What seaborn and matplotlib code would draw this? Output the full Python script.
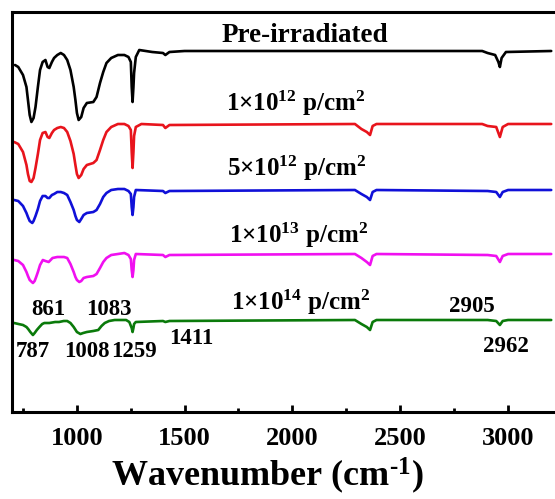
import matplotlib
matplotlib.use("Agg")
import matplotlib.pyplot as plt
import seaborn as sns
import pandas as pd

# ---------------- data ----------------
samples = ["Pre-irradiated", "1e12", "5e12", "1e13", "1e14"]
colors = ["#000000", "#e8141c", "#1010d8", "#f010f0", "#0a7a0a"]

wn_pre = [714, 729, 751, 767, 774, 782, 790, 800, 809, 820, 830, 842, 855, 865, 873, 885, 895,
          910, 926, 941, 956, 971, 986, 994, 1001, 1009, 1021, 1032, 1047, 1077, 1092, 1108,
          1123, 1138, 1160, 1191, 1221, 1240, 1251, 1255, 1259, 1263, 1266, 1274, 1290,
          1350, 1400, 1411, 1430, 1500, 2000, 2880, 2905, 2940, 2955, 2962, 2970, 2990, 3200]
t_pre = [347, 345, 337, 325, 312, 297, 290, 294, 305, 325, 342, 350, 352, 345, 344, 350, 354,
         357, 359, 357, 352, 342, 325, 312, 299, 292, 295, 304, 309, 310, 315, 329,
         340, 349, 354, 357, 357, 355, 350, 325, 310, 325, 339, 355, 362,
         360, 359, 357, 360, 361, 361, 361, 359, 357, 350, 345, 354, 360, 361]

wn_1e12 = [710, 729, 751, 767, 774, 782, 790, 800, 809, 820, 830, 842, 855, 865, 873, 885, 895,
           910, 926, 941, 956, 971, 986, 994, 1001, 1009, 1021, 1032, 1047, 1077, 1092, 1108,
           1123, 1138, 1160, 1191, 1221, 1240, 1251, 1255, 1259, 1263, 1266, 1274, 1300,
           1400, 1411, 1430, 2290, 2320, 2345, 2360, 2372, 2390, 2880, 2905, 2945, 2962, 2975,
           3000, 3200]
t_1e12 = [270, 268, 260, 247, 238, 231, 230, 234, 244, 258, 272, 279, 280, 275, 274, 279, 282,
          284, 285, 284, 280, 271, 258, 247, 238, 234, 237, 243, 247, 249, 252, 262,
          272, 280, 285, 288, 288, 286, 282, 260, 244, 260, 276, 285, 288,
          287, 284, 287, 288, 283, 280, 277, 286, 288, 288, 286, 285, 275, 285,
          288, 288]

wn_5e12 = [710, 729, 751, 767, 774, 782, 794, 800, 809, 820, 830, 842, 855, 865, 873, 885, 895,
           910, 926, 941, 956, 971, 986, 994, 1001, 1012, 1021, 1032, 1047, 1077, 1092, 1108,
           1123, 1138, 1160, 1191, 1221, 1240, 1251, 1255, 1259, 1263, 1266, 1274, 1400, 1411,
           1430, 2290, 2320, 2345, 2360, 2372, 2390, 2905, 2945, 2962, 2975, 3000, 3200]
t_5e12 = [212, 211, 206, 199, 195, 191, 189, 191, 196, 203, 211, 216, 216, 214, 214, 217, 218,
          220, 220, 219, 217, 210, 202, 196, 192, 190, 193, 197, 199, 200, 202, 208,
          215, 219, 222, 223, 223, 221, 218, 205, 197, 205, 215, 222, 221, 219,
          221, 222, 218, 215, 212, 220, 222, 221, 220, 215, 220, 222, 222]

wn_1e13 = [710, 729, 751, 767, 774, 782, 797, 805, 812, 820, 830, 843, 855, 870, 888, 910, 926,
           941, 956, 971, 986, 994, 1001, 1012, 1021, 1032, 1047, 1077, 1092, 1108, 1123, 1138,
           1160, 1191, 1221, 1240, 1251, 1255, 1259, 1263, 1266, 1274, 1400, 1411, 1430, 2290,
           2320, 2345, 2360, 2372, 2390, 2905, 2945, 2962, 2975, 3000, 3200]
t_1e13 = [152, 151, 147, 140, 136, 132, 129, 131, 135, 140, 147, 152, 151, 150, 154, 155, 155,
          155, 154, 148, 140, 135, 132, 130, 131, 134, 135, 136, 138, 144, 150, 154,
          157, 158, 159, 157, 153, 142, 135, 142, 152, 158, 157, 155, 157, 158,
          154, 150, 147, 156, 158, 157, 156, 150, 156, 158, 158]

wn_1e14 = [710, 730, 751, 767, 775, 785, 797, 805, 815, 827, 840, 850, 873, 900, 918, 940, 956,
           971, 986, 1001, 1017, 1030, 1047, 1077, 1100, 1115, 1130, 1150, 1176, 1229, 1244,
           1255, 1259, 1263, 1266, 1274, 1400, 1411, 1430, 2290, 2320, 2345, 2360, 2372, 2390,
           2905, 2945, 2962, 2975, 3000, 3200]
t_1e14 = [89, 88, 87, 85, 83, 80, 77, 79, 82, 85, 88, 89, 89, 90, 90, 91, 91,
          89, 85, 80, 78, 79, 80, 81, 82, 86, 89, 91, 92, 92, 90,
          84, 80, 84, 88, 90, 91, 90, 91, 92, 88, 85, 82, 90, 92,
          92, 91, 87, 91, 92, 92]

series_labels = ["Pre-irradiated", "1×10$^{12}$ p/cm$^{2}$", "5×10$^{12}$ p/cm$^{2}$",
                 "1×10$^{13}$ p/cm$^{2}$", "1×10$^{14}$ p/cm$^{2}$"]
peak_labels = ["861", "1083", "787", "1008", "1259", "1411", "2905", "2962"]
x_ticks = [1000, 1500, 2000, 2500, 3000]

# ---------------- build table ----------------
frames = []
for name, wn, t in zip(samples,
                       [wn_pre, wn_1e12, wn_5e12, wn_1e13, wn_1e14],
                       [t_pre, t_1e12, t_5e12, t_1e13, t_1e14]):
    frames.append(pd.DataFrame({"wn": wn, "T": t, "sample": name}))
df = pd.concat(frames, ignore_index=True)

# ---------------- style ----------------
sns.set_theme(style="ticks")
plt.rcParams["font.family"] = ["Liberation Serif", "DejaVu Serif"]
plt.rcParams["font.weight"] = "bold"
plt.rcParams["text.color"] = "black"
plt.rcParams["axes.labelcolor"] = "black"
plt.rcParams["xtick.color"] = "black"
plt.rcParams["axes.edgecolor"] = "black"
plt.rcParams["mathtext.fontset"] = "custom"
plt.rcParams["mathtext.rm"] = "Liberation Serif:bold"
plt.rcParams["mathtext.it"] = "Liberation Serif:bold"
plt.rcParams["mathtext.bf"] = "Liberation Serif:bold"
plt.rcParams["mathtext.default"] = "rm"

fig = plt.figure(figsize=(5.55, 4.99), dpi=100)
ax = fig.add_axes([12 / 555, 87 / 499, 550 / 555, 400 / 499])

sns.lineplot(data=df, x="wn", y="T", hue="sample", palette=colors, hue_order=samples,
             estimator=None, sort=False, linewidth=1.9, legend=False, ax=ax)
for ln in ax.get_lines():
    ln.set_solid_joinstyle("round")

ax.set_xlim(700, 3200)
ax.set_ylim(0, 400)
ax.set_xticks(x_ticks)
ax.set_xticks([750, 1250, 1750, 2250, 2750, 3250], minor=True)
ax.set_yticks([])
ax.set_ylabel("")
ax.tick_params(axis="x", which="major", direction="in", length=5, width=2,
               labelsize=19, pad=11, top=False, colors="black")
ax.tick_params(axis="x", which="minor", direction="in", length=3, width=2, top=False)
for lab in ax.get_xticklabels():
    lab.set_fontweight("bold")
for s in ["left", "bottom", "top"]:
    ax.spines[s].set_linewidth(2.2)
ax.spines["right"].set_visible(False)

ax.set_xlabel("Wavenumber (cm$^{\\text{-}1}$)", fontsize=26, fontweight="bold")
ax.xaxis.set_label_coords(0.465, -0.16)
ax.xaxis.label.set_va("center")

# series labels
ax.text(2059, 370, series_labels[0], fontsize=19.5, fontweight="bold", ha="center", va="baseline")
ax.text(1691, 301, series_labels[1], fontsize=18, fontweight="bold", ha="left", va="baseline")
ax.text(1695, 236, series_labels[2], fontsize=18, fontweight="bold", ha="left", va="baseline")
ax.text(1705, 169, series_labels[3], fontsize=18, fontweight="bold", ha="left", va="baseline")
ax.text(1714, 102, series_labels[4], fontsize=18, fontweight="bold", ha="left", va="baseline")

# peak labels
peak_pos = [(870, 97), (1150, 97), (795, 55), (1045, 55), (1264, 55), (1532, 68),
            (2832, 100), (2989, 60)]
for lab, (px, py) in zip(peak_labels, peak_pos):
    ax.text(px, py, lab, fontsize=16.5, fontweight="bold", ha="center", va="baseline")

fig.savefig("out.png", dpi=100)
